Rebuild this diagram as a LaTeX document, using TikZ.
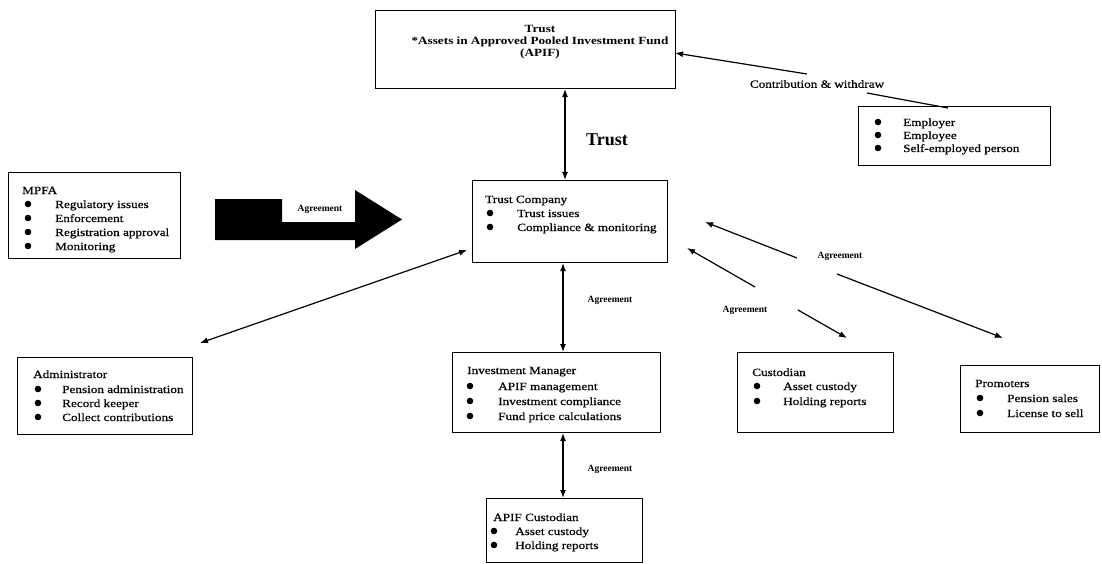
\documentclass[tikz,border=0pt]{standalone}
\usepackage{fontspec}
\setmainfont{Liberation Serif}
\newfontfamily\wfb[FakeStretch=1.2]{Liberation Serif Bold}
\newfontfamily\wfm[FakeStretch=1.2,FakeBold=0.6]{Liberation Serif}
\usetikzlibrary{arrows.meta}
\tikzset{
  box/.style={draw, line width=1.1pt, anchor=north west, inner sep=0pt},
  txt/.style={anchor=base west, yshift=-4pt, inner sep=0pt, font=\wfm\fontsize{11}{13}\selectfont},
  lbl/.style={inner sep=1pt, font=\bfseries\fontsize{9.5}{12}\selectfont},
  conn/.style={line width=1.2pt, {Latex[length=8pt,width=6pt]}-{Latex[length=8pt,width=6pt]}},
  connE/.style={line width=1.2pt, -{Latex[length=8pt,width=6pt]}},
  connS/.style={line width=1.2pt, {Latex[length=8pt,width=6pt]}-},
  plain/.style={line width=1.2pt},
  dot/.style={fill=black}
}
\begin{document}
\begin{tikzpicture}[x=1pt,y=-1pt]
\useasboundingbox[fill=white] (0,0) rectangle (1102,564);

% ---------- boxes ----------
\node[box, minimum width=300, minimum height=78] (trust) at (375,10) {};
\node[align=center, inner sep=0pt, font=\wfb\fontsize{11}{12}\selectfont] (trusttxt) at (540,42)
  {Trust\\ *Assets in Approved Pooled Investment Fund\\ (APIF)};

\node[box, minimum width=195, minimum height=82] (tc) at (472,180) {};
\node[txt] (tc0) at (485,199) {Trust Company};
\fill[dot] (490,213) circle (3.3); \node[txt] (tc1) at (517,213) {Trust issues};
\fill[dot] (490,227) circle (3.3); \node[txt] (tc2) at (517,227) {Compliance \& monitoring};

\node[box, minimum width=172, minimum height=86] (mpfa) at (8,172) {};
\node[txt] (m0) at (22,190) {MPFA};
\fill[dot] (28,204) circle (3.3); \node[txt] (m1) at (55,204) {Regulatory issues};
\fill[dot] (28,218) circle (3.3); \node[txt] (m2) at (55,218) {Enforcement};
\fill[dot] (28,232) circle (3.3); \node[txt] (m3) at (55,232) {Registration approval};
\fill[dot] (28,246) circle (3.3); \node[txt] (m4) at (55,246) {Monitoring};

\node[box, minimum width=175, minimum height=77] (adm) at (17,357) {};
\node[txt] (a0) at (33,374) {Administrator};
\fill[dot] (38,389) circle (3.3); \node[txt] (a1) at (62,389) {Pension administration};
\fill[dot] (38,403) circle (3.3); \node[txt] (a2) at (62,403) {Record keeper};
\fill[dot] (38,417) circle (3.3); \node[txt] (a3) at (62,417) {Collect contributions};

\node[box, minimum width=208, minimum height=80] (im) at (452,352) {};
\node[txt] (i0) at (467,370) {Investment Manager};
\fill[dot] (470,386) circle (3.3); \node[txt] (i1) at (498,386) {APIF management};
\fill[dot] (470,401) circle (3.3); \node[txt] (i2) at (498,401) {Investment compliance};
\fill[dot] (470,416) circle (3.3); \node[txt] (i3) at (498,416) {Fund price calculations};

\node[box, minimum width=156, minimum height=64] (ac) at (486,498) {};
\node[txt] (ac0) at (493,517) {APIF Custodian};
\fill[dot] (494,531) circle (3.3); \node[txt] (ac1) at (515,531) {Asset custody};
\fill[dot] (494,545) circle (3.3); \node[txt] (ac2) at (515,545) {Holding reports};

\node[box, minimum width=156, minimum height=80] (cus) at (737,352) {};
\node[txt] (c0) at (752,372) {Custodian};
\fill[dot] (757,386) circle (3.3); \node[txt] (c1) at (783,386) {Asset custody};
\fill[dot] (757,401) circle (3.3); \node[txt] (c2) at (783,401) {Holding reports};

\node[box, minimum width=139, minimum height=67] (pro) at (960,365) {};
\node[txt] (p0) at (975,383) {Promoters};
\fill[dot] (980,398) circle (3.3); \node[txt] (p1) at (1007,398) {Pension sales};
\fill[dot] (980,413) circle (3.3); \node[txt] (p2) at (1007,413) {License to sell};

\node[box, minimum width=192, minimum height=59] (emp) at (858,106) {};
\fill[dot] (878,122) circle (3.3); \node[txt] (e1) at (903,122) {Employer};
\fill[dot] (878,135) circle (3.3); \node[txt] (e2) at (903,135) {Employee};
\fill[dot] (878,148) circle (3.3); \node[txt] (e3) at (903,148) {Self-employed person};

% ---------- block arrow MPFA -> Trust Company ----------
\fill (215,199) -- (282,199) -- (282,222) -- (355,222) -- (355,190) -- (402,219.5)
  -- (355,249) -- (355,240) -- (215,240) -- cycle;
\node[lbl] (agrblock) at (320,209) {Agreement};

% ---------- connectors ----------
\draw[conn] (trust.south -| 565,0) -- (tc.north -| 565,0);
\node[inner sep=0pt, font=\bfseries\fontsize{18}{20}\selectfont] (trustlbl) at (607,140) {Trust};

\draw[conn] (tc.south -| 563,0) -- (im.north -| 563,0);
\node[lbl] (agr1) at (610,300) {Agreement};

\draw[conn] (im.south -| 563,0) -- (ac.north -| 563,0);
\node[lbl] (agr2) at (610,469) {Agreement};

\coordinate (tcA) at (467,250);
\coordinate (admA) at (200,343);
\draw[conn] (tcA) -- (admA);

% Trust company <-> Promoters
\coordinate (tcP) at (705,222);
\coordinate (p1a) at (797,258);
\coordinate (p1b) at (837,274);
\coordinate (proA) at (1003,338);
\draw[connS] (tcP) -- (p1a);
\node[lbl] (agr3) at (840,256) {Agreement};
\draw[connE] (p1b) -- (proA);

% Trust company <-> Custodian
\coordinate (tcC) at (687,248);
\coordinate (c1a) at (755,287);
\coordinate (c1b) at (798,310);
\coordinate (cusA) at (847,338);
\draw[connS] (tcC) -- (c1a);
\node[lbl] (agr4) at (745,310) {Agreement};
\draw[connE] (c1b) -- (cusA);

% Trust <- Employer
\coordinate (trE) at (675,53);
\coordinate (e1a) at (807,74);
\coordinate (e1b) at (867,93);
\coordinate (empA) at (948,108);
\draw[connS] (trE) -- (e1a);
\node[inner sep=1pt, font=\wfm\fontsize{11}{13}\selectfont] (contr) at (817,84) {Contribution \& withdraw};
\draw[plain] (e1b) -- (empA);
\end{tikzpicture}
\end{document}
